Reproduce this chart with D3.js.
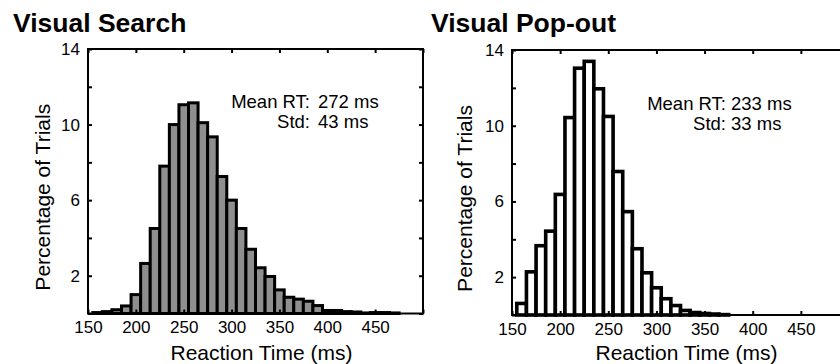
<!DOCTYPE html>
<html>
<head>
<meta charset="utf-8">
<script src="https://cdn.jsdelivr.net/npm/d3@7"></script>
<style>
  body { margin: 0; background: #fff; }
  svg { display: block; font-family: "Liberation Sans", Arial, sans-serif; }
</style>
</head>
<body>
<svg id="chart" width="840" height="364"></svg>
<script>
// histogram data (% of trials per 10 ms bin, bins given by centre)
const searchBins = [160, 170, 180, 190, 200, 210, 220, 230, 240, 250, 260, 270, 280, 290, 300, 310,
  320, 330, 340, 350, 360, 370, 380, 390, 400, 410, 420, 430, 440, 450, 460, 470]
const searchPct = [0.05, 0.1, 0.2, 0.4, 1.0, 2.65, 4.5, 7.8, 10.0, 11.05, 11.15, 10.1, 9.35, 7.25, 6.0, 4.5,
  3.4, 2.42, 1.96, 1.25, 0.86, 0.76, 0.65, 0.42, 0.16, 0.16, 0.1, 0.08, 0.03, 0.05, 0.05, 0.03]

const popoutBins = [160, 170, 180, 190, 200, 210, 220, 230, 240, 250, 260, 270, 280, 290, 300, 310,
  320, 330, 340, 350, 360, 370]
const popoutPct = [0.61, 2.28, 3.66, 4.43, 6.37, 10.43, 13.04, 13.4, 11.95, 10.49, 7.58, 5.46, 3.5, 2.23, 1.44, 0.86,
  0.5, 0.24, 0.13, 0.08, 0.05, 0.02]

const xTicks = [150, 200, 250, 300, 350, 400, 450, 500]
const xTickLabels = ["150", "200", "250", "300", "350", "400", "450", ""]
const yTicks = [0, 2, 4, 6, 8, 10, 12, 14]
const yTickLabels = ["", "2", "", "6", "", "10", "", "14"]

const binWidth = 10
const svg = d3.select("#chart")

const panels = [
  { title: "Visual Search", bins: searchBins, pct: searchPct, fill: "#8f8f8f", stroke: 3,
    xRange: [88, 423], yRange: [313.5, 49], titleX: 13,
    stats: [["Mean RT:", "272 ms"], ["Std:", "43 ms"]], colonX: 310, valueX: 318, statY: 108,
    yLabelX: 50 },
  { title: "Visual Pop-out", bins: popoutBins, pct: popoutPct, fill: "#fff", stroke: 3.6,
    xRange: [512, 849], yRange: [315, 50], titleX: 431,
    stats: [["Mean RT:", "233 ms"], ["Std:", "33 ms"]], colonX: 726, valueX: 731, statY: 110,
    yLabelX: 472 }
]

panels.forEach(p => {
  const x = d3.scaleLinear().domain([150, 500]).range(p.xRange)
  const y = d3.scaleLinear().domain([0, 14]).range(p.yRange)
  const g = svg.append("g")

  // bars
  g.selectAll("rect.bar")
    .data(p.bins.map((b, i) => ({ b, v: p.pct[i] })))
    .join("rect")
    .attr("class", "bar")
    .attr("x", d => x(d.b - binWidth / 2))
    .attr("width", d => x(d.b + binWidth / 2) - x(d.b - binWidth / 2))
    .attr("y", d => y(d.v))
    .attr("height", d => y(0) - y(d.v))
    .attr("fill", p.fill)
    .attr("stroke", "#000")
    .attr("stroke-width", p.stroke)

  // axes, ticks pointing inward on all four sides
  const styleAxis = sel => {
    sel.select(".domain").remove()
    sel.selectAll(".tick line").attr("stroke", "#000").attr("stroke-width", 2)
    sel.selectAll(".tick text").attr("fill", "#000").style("font-size", "17px")
  }
  g.append("g").attr("transform", `translate(0,${y(0)})`)
    .call(d3.axisBottom(x).tickValues(xTicks).tickSize(-4).tickPadding(7.5)
      .tickFormat((d, i) => xTickLabels[i]))
    .call(styleAxis)
  g.append("g").attr("transform", `translate(0,${y(14)})`)
    .call(d3.axisTop(x).tickValues(xTicks).tickSize(-4).tickFormat(""))
    .call(styleAxis)
  g.append("g").attr("transform", `translate(${x(150)},0)`)
    .call(d3.axisLeft(y).tickValues(yTicks).tickSize(-4).tickPadding(8)
      .tickFormat((d, i) => yTickLabels[i]))
    .call(styleAxis)
  g.append("g").attr("transform", `translate(${x(500)},0)`)
    .call(d3.axisRight(y).tickValues(yTicks).tickSize(-4).tickFormat(""))
    .call(styleAxis)

  // box
  g.append("rect")
    .attr("x", x(150)).attr("y", y(14))
    .attr("width", x(500) - x(150)).attr("height", y(0) - y(14))
    .attr("fill", "none").attr("stroke", "#000").attr("stroke-width", 2)

  // titles and labels
  svg.append("text")
    .attr("x", p.titleX).attr("y", 32)
    .style("font-size", "26.5px").style("font-weight", "bold")
    .text(p.title)

  svg.append("text")
    .attr("x", (x(150) + x(500)) / 2 + 6)
    .attr("y", 360)
    .attr("text-anchor", "middle")
    .style("font-size", "21px")
    .text("Reaction Time (ms)")

  svg.append("text")
    .attr("transform", `translate(${p.yLabelX},${(y(0) + y(14)) / 2 + 16}) rotate(-90)`)
    .attr("text-anchor", "middle")
    .style("font-size", "21px")
    .text("Percentage of Trials")

  // stats annotation
  p.stats.forEach((s, i) => {
    svg.append("text")
      .attr("x", p.colonX).attr("y", p.statY + i * 20)
      .attr("text-anchor", "end")
      .style("font-size", "18.5px")
      .text(s[0])
    svg.append("text")
      .attr("x", p.valueX).attr("y", p.statY + i * 20)
      .style("font-size", "18.5px")
      .text(s[1])
  })
})
</script>
</body>
</html>
